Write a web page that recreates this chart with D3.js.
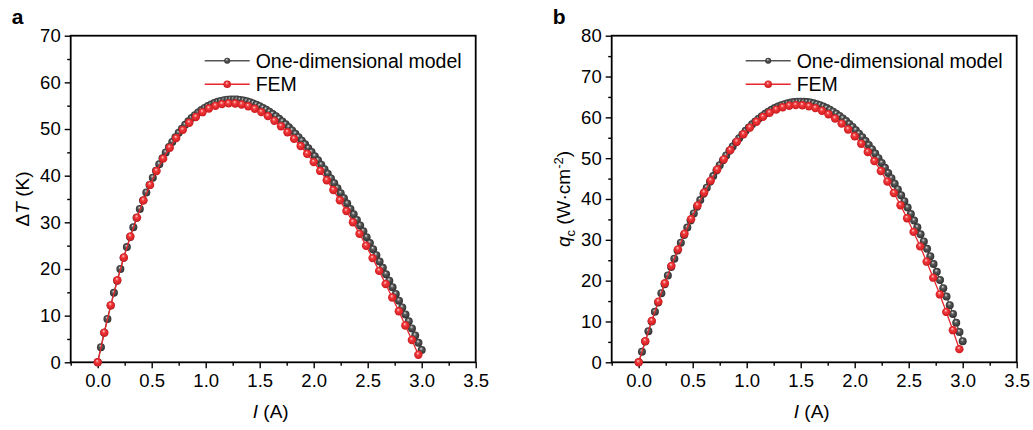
<!DOCTYPE html>
<html><head><meta charset="utf-8">
<script src="https://cdn.jsdelivr.net/npm/d3@7"></script>
<style>
body{margin:0;background:#fff}
svg{display:block}
text{font-family:"Liberation Sans",Arial,Helvetica,sans-serif;fill:#000}
</style>
</head><body>
<svg id="chart" width="1033" height="430"></svg>
<script>
// ---------- data ----------
const seriesNames = ["One-dimensional model", "FEM"];
const xTickValues = [0, 0.5, 1.0, 1.5, 2.0, 2.5, 3.0, 3.5];
const yTicksA = [0, 10, 20, 30, 40, 50, 60, 70];
const yTicksB = [0, 10, 20, 30, 40, 50, 60, 70, 80];

const iModel = [0,0.03,0.06,0.09,0.12,0.15,0.18,0.21,0.24,0.27,0.30,0.33,0.36,0.39,0.42,0.45,0.48,0.51,0.54,0.57,0.60,0.63,0.66,0.69,0.72,0.75,0.78,0.81,0.84,0.87,0.90,0.93,0.96,0.99,1.02,1.05,1.08,1.11,1.14,1.17,1.20,1.23,1.26,1.29,1.32,1.35,1.38,1.41,1.44,1.47,1.50,1.53,1.56,1.59,1.62,1.65,1.68,1.71,1.74,1.77,1.80,1.83,1.86,1.89,1.92,1.95,1.98,2.01,2.04,2.07,2.10,2.13,2.16,2.19,2.22,2.25,2.28,2.31,2.34,2.37,2.40,2.43,2.46,2.49,2.52,2.55,2.58,2.61,2.64,2.67,2.70,2.73,2.76,2.79,2.82,2.85,2.88,2.91,2.94,2.97,3.00];
const iFEM = [0,0.061,0.121,0.182,0.242,0.303,0.364,0.424,0.485,0.545,0.606,0.667,0.727,0.788,0.848,0.909,0.970,1.030,1.091,1.151,1.212,1.273,1.333,1.394,1.454,1.515,1.576,1.636,1.697,1.757,1.818,1.879,1.939,2.000,2.060,2.121,2.182,2.242,2.303,2.363,2.424,2.485,2.545,2.606,2.666,2.727,2.788,2.848,2.909,2.969];

// panel a: ΔT (K)
const dTModel = [0,3.23,6.33,9.30,12.15,14.88,17.50,20.00,22.40,24.69,26.88,28.97,30.96,32.86,34.67,36.39,38.02,39.57,41.04,42.43,43.74,44.97,46.13,47.22,48.24,49.19,50.07,50.89,51.65,52.34,52.97,53.55,54.06,54.53,54.93,55.28,55.58,55.83,56.03,56.18,56.28,56.34,56.35,56.31,56.23,56.11,55.94,55.74,55.49,55.21,54.89,54.52,54.13,53.69,53.22,52.72,52.18,51.60,51.00,50.36,49.69,48.99,48.26,47.50,46.71,45.90,45.05,44.18,43.28,42.35,41.39,40.42,39.41,38.38,37.33,36.25,35.15,34.03,32.88,31.71,30.52,29.31,28.08,26.82,25.55,24.25,22.94,21.61,20.25,18.88,17.49,16.08,14.66,13.21,11.75,10.27,8.78,7.27,5.74,4.19,2.63];
const dTFEM = [0,6.36,12.21,17.57,22.47,26.95,31.01,34.70,38.02,41.00,43.65,46.00,48.05,49.82,51.33,52.59,53.61,54.39,54.97,55.33,55.49,55.47,55.26,54.88,54.33,53.62,52.76,51.75,50.60,49.31,47.89,46.35,44.69,42.91,41.02,39.02,36.92,34.72,32.42,30.03,27.55,24.98,22.33,19.59,16.78,13.89,10.93,7.90,4.79,1.62];

// panel b: q_c (W·cm^-2)
const qcModel = [0,2.58,5.11,7.59,10.00,12.37,14.67,16.93,19.12,21.27,23.36,25.39,27.37,29.30,31.17,32.99,34.75,36.46,38.12,39.73,41.28,42.78,44.22,45.62,46.96,48.25,49.48,50.67,51.80,52.88,53.91,54.88,55.81,56.69,57.51,58.28,59.00,59.67,60.29,60.86,61.38,61.85,62.27,62.64,62.96,63.23,63.45,63.62,63.74,63.82,63.84,63.81,63.74,63.62,63.44,63.22,62.96,62.64,62.27,61.86,61.40,60.89,60.34,59.74,59.09,58.39,57.64,56.85,56.01,55.13,54.20,53.22,52.19,51.12,50.01,48.84,47.64,46.38,45.08,43.74,42.35,40.91,39.43,37.90,36.33,34.71,33.05,31.35,29.60,27.80,25.96,24.08,22.15,20.18,18.16,16.11,14.00,11.86,9.67,7.44,5.16];
const qcFEM = [0,5.18,10.14,14.86,19.35,23.62,27.66,31.47,35.07,38.43,41.58,44.50,47.21,49.70,51.97,54.03,55.87,57.49,58.91,60.11,61.10,61.89,62.47,62.84,63.00,62.96,62.71,62.26,61.62,60.77,59.72,58.47,57.03,55.38,53.55,51.52,49.29,46.87,44.27,41.47,38.48,35.30,31.94,28.39,24.65,20.73,16.63,12.34,7.87,3.22];

// ---------- drawing ----------
const svg = d3.select("#chart");
const defs = svg.append("defs");
function sphereGrad(id, hi, mid, edge) {
  const g = defs.append("radialGradient").attr("id", id)
    .attr("cx", "50%").attr("cy", "50%").attr("r", "55%")
    .attr("fx", "42%").attr("fy", "30%");
  g.append("stop").attr("offset", "0%").attr("stop-color", hi);
  g.append("stop").attr("offset", "35%").attr("stop-color", mid);
  g.append("stop").attr("offset", "100%").attr("stop-color", edge);
}
sphereGrad("gBlack", "#e6e6e6", "#5a5a5a", "#2a2a2a");
sphereGrad("gRed", "#ffd6d6", "#f2393b", "#c8161b");

const styles = [
  {line: "#555555", fill: "url(#gBlack)", r: 4.0, lr: 3.0},
  {line: "#e8262b", fill: "url(#gRed)", r: 4.2, lr: 3.8}
];

function panel(cfg) {
  const x = d3.scaleLinear().domain([-0.25, 3.5]).range([cfg.left, cfg.left + 405]);
  const y = d3.scaleLinear().domain([0, cfg.yMax]).range([362.3, 35.7]);
  const g = svg.append("g");

  // minor ticks
  const xMinor = d3.range(-0.25, 3.5, 0.5);
  const yMinor = d3.range(5, cfg.yMax, 10);
  g.append("g").attr("transform", "translate(0,362.3)")
    .call(d3.axisBottom(x).tickValues(xMinor).tickSize(3.5).tickFormat(""))
    .call(s => s.select(".domain").remove())
    .selectAll("line").attr("stroke-width", 1.4);
  g.append("g").attr("transform", `translate(${cfg.left},0)`)
    .call(d3.axisLeft(y).tickValues(yMinor).tickSize(3.5).tickFormat(""))
    .call(s => s.select(".domain").remove())
    .selectAll("line").attr("stroke-width", 1.4);

  // major ticks
  const xa = g.append("g").attr("transform", "translate(0,362.3)")
    .call(d3.axisBottom(x).tickValues(xTickValues).tickSize(6).tickPadding(6).tickFormat(d3.format(".1f")));
  xa.select(".domain").remove();
  xa.selectAll("line").attr("stroke-width", 1.4);
  xa.selectAll("text").attr("font-size", 18.5).attr("font-family", "Liberation Sans, Arial, sans-serif").attr("fill", "#111");
  const ya = g.append("g").attr("transform", `translate(${cfg.left},0)`)
    .call(d3.axisLeft(y).tickValues(cfg.yTicks).tickSize(6).tickPadding(4));
  ya.select(".domain").remove();
  ya.selectAll("line").attr("stroke-width", 1.4);
  ya.selectAll("text").attr("font-size", 18.5).attr("font-family", "Liberation Sans, Arial, sans-serif").attr("fill", "#111");

  // frame
  g.append("rect").attr("x", cfg.left).attr("y", 35.7).attr("width", 405).attr("height", 326.6)
    .attr("fill", "none").attr("stroke", "#000").attr("stroke-width", 1.8);

  // series
  const sets = [
    {xs: iModel, ys: cfg.model, st: styles[0]},
    {xs: iFEM, ys: cfg.fem, st: styles[1]}
  ];
  sets.forEach(s => {
    const pts = s.xs.map((v, i) => [v, s.ys[i]]);
    g.append("path").datum(pts)
      .attr("fill", "none").attr("stroke", s.st.line).attr("stroke-width", 1.3)
      .attr("d", d3.line().x(d => x(d[0])).y(d => y(d[1])));
    g.append("g").selectAll("circle").data(pts).join("circle")
      .attr("cx", d => x(d[0])).attr("cy", d => y(d[1])).attr("r", s.st.r)
      .attr("fill", s.st.fill);
  });

  // legend
  const lx0 = cfg.left + 134, lx1 = cfg.left + 179;
  seriesNames.forEach((name, i) => {
    const ly = 60.7 + i * 23.6;
    const st = styles[i];
    g.append("line").attr("x1", lx0).attr("x2", lx1).attr("y1", ly).attr("y2", ly)
      .attr("stroke", st.line).attr("stroke-width", 1.5);
    g.append("circle").attr("cx", (lx0 + lx1) / 2).attr("cy", ly).attr("r", st.lr).attr("fill", st.fill);
    g.append("text").attr("x", lx1 + 6).attr("y", ly + 7).attr("font-size", 19.5).text(name);
  });

  // x title
  const xt = g.append("text").attr("x", cfg.left + 200).attr("y", 418).attr("text-anchor", "middle").attr("font-size", 19);
  xt.append("tspan").attr("font-style", "italic").text("I");
  xt.append("tspan").text(" (A)");

  // panel letter
  g.append("text").attr("x", cfg.left - 59).attr("y", 24).attr("font-size", 21).attr("font-weight", "bold").text(cfg.letter);

  // y title
  const yt = g.append("text").attr("transform", `translate(${cfg.left - 42},199) rotate(-90)`)
    .attr("text-anchor", "middle").attr("font-size", 19);
  cfg.ytitle(yt);
  return g;
}

panel({
  left: 70.7, yMax: 70, yTicks: yTicksA, model: dTModel, fem: dTFEM, letter: "a",
  ytitle: t => {
    t.append("tspan").text("\u0394");
    t.append("tspan").attr("font-style", "italic").text("T");
    t.append("tspan").text(" (K)");
  }
});
panel({
  left: 611.7, yMax: 80, yTicks: yTicksB, model: qcModel, fem: qcFEM, letter: "b",
  ytitle: t => {
    t.append("tspan").attr("font-style", "italic").text("q");
    t.append("tspan").attr("font-size", 13).attr("dy", 5).text("c");
    t.append("tspan").attr("dy", -5).text(" (W\u00B7cm");
    t.append("tspan").attr("font-size", 13).attr("dy", -7).text("-2");
    t.append("tspan").attr("dy", 7).text(")");
  }
});
</script>
</body></html>
